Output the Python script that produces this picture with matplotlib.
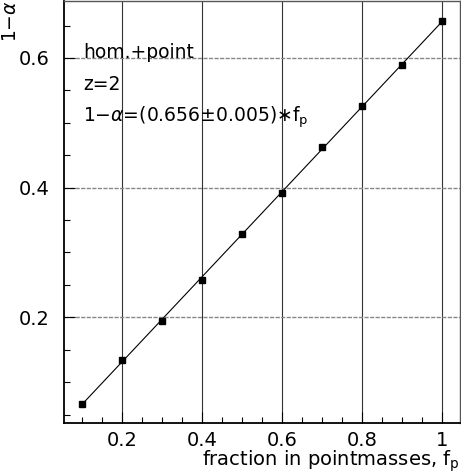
import numpy as np
import matplotlib
matplotlib.use('Agg')
import matplotlib.pyplot as plt
from matplotlib.ticker import MultipleLocator

# data
fp = [0.1, 0.2, 0.3, 0.4, 0.5, 0.6, 0.7, 0.8, 0.9, 1.0]
one_minus_alpha = [0.066, 0.134, 0.195, 0.258, 0.329, 0.392, 0.463, 0.526, 0.589, 0.657]
slope = 0.656
slope_err = 0.005

plt.rcParams['font.family'] = ['DejaVu Sans']
plt.rcParams['mathtext.fontset'] = 'dejavusans'

fig = plt.figure(figsize=(4.61, 4.75), dpi=100)
ax = fig.add_axes([0.1388, 0.1095, 0.8590, 0.8885])

# fit line
xfit = np.array([fp[0], fp[-1]])
ax.plot(xfit, slope * xfit, color='black', lw=0.8, zorder=3)
ax.plot(fp, one_minus_alpha, 's', color='black', ms=3.8, zorder=4)

ax.set_xlim(0.055, 1.045)
ax.set_ylim(0.037, 0.688)

ax.xaxis.set_major_locator(MultipleLocator(0.2))
ax.xaxis.set_minor_locator(MultipleLocator(0.05))
ax.yaxis.set_major_locator(MultipleLocator(0.2))
ax.yaxis.set_minor_locator(MultipleLocator(0.05))
ax.xaxis.set_major_formatter(plt.FuncFormatter(lambda v, p: '1' if abs(v - 1) < 1e-6 else f'{v:.1f}'))
ax.yaxis.set_major_formatter(plt.FuncFormatter(lambda v, p: f'{v:.1f}'))

ax.tick_params(which='both', direction='in', top=False, right=False, labelsize=14)
ax.tick_params(which='major', length=8, width=0.8)
ax.tick_params(which='minor', length=4, width=0.8)
ax.tick_params(axis='x', pad=6)
ax.tick_params(axis='y', pad=10)

# grid
ax.grid(True, axis='x', which='major', color='#333333', lw=0.8)
ax.grid(True, axis='y', which='major', color='#888888', lw=1.0, ls=(0, (3, 1)))
ax.set_axisbelow(True)
for s in ['left', 'bottom']:
    ax.spines[s].set_linewidth(1.3)
for s in ['top', 'right']:
    ax.spines[s].set_linewidth(1.0)
    ax.spines[s].set_color('#555555')

ax.text(0.048, 0.879, 'hom.+point', transform=ax.transAxes, fontsize=13.5, va='center')
ax.text(0.048, 0.801, 'z=2', transform=ax.transAxes, fontsize=13.5, va='center')
ax.text(0.048, 0.725,
        r'1$-\alpha$=(%.3f$\pm$%.3f)$\ast$f$_\mathregular{p}$' % (slope, slope_err),
        transform=ax.transAxes, fontsize=13.5, va='center')

fig.text(0.998, 0.028, r'fraction in pointmasses, f$_\mathregular{p}$', fontsize=14,
         ha='right', va='center')
fig.text(0.002, 1.0, r'1$-\alpha$', fontsize=13.5, rotation=90, ha='left', va='top')

fig.savefig('out.png', dpi=100)
